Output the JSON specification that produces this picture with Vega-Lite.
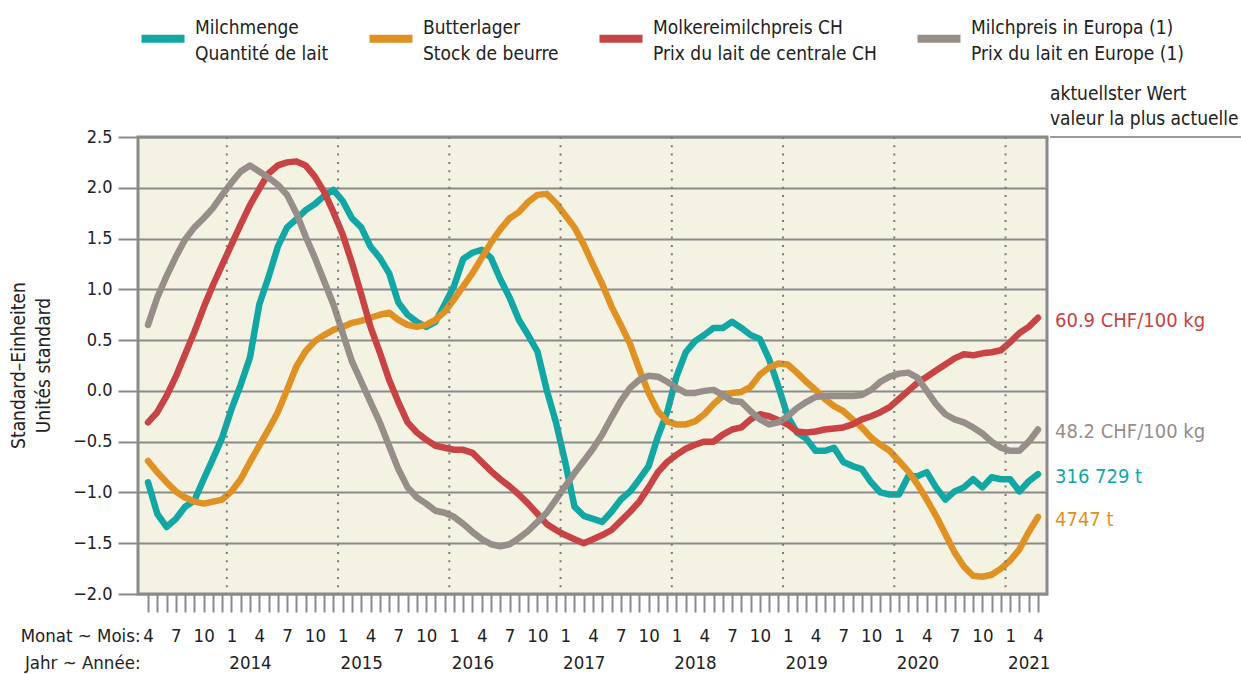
{
  "$schema": "https://vega.github.io/schema/vega-lite/v6.json",
  "width": 909,
  "height": 457,
  "autosize": "none",
  "padding": {"left": 138, "top": 137, "right": 194, "bottom": 81},
  "background": "white",
  "config": {
    "font": "Liberation Sans Narrow, DejaVu Sans Condensed, Roboto, sans-serif",
    "view": {"fill": "#f4f3e3", "stroke": "#8a8a8a", "strokeWidth": 3},
    "style": {"guide-label": {"lineHeight": 26}}
  },
  "resolve": {"axis": {"x": "independent", "y": "independent"}},
  "datasets": {
    "series": [
      {"t":0,"milch":-0.90,"butter":-0.69,"preis":-0.31,"europa":0.65},
      {"t":1,"milch":-1.21,"butter":-0.80,"preis":-0.21,"europa":0.92},
      {"t":2,"milch":-1.34,"butter":-0.90,"preis":-0.05,"europa":1.13},
      {"t":3,"milch":-1.26,"butter":-0.99,"preis":0.14,"europa":1.32},
      {"t":4,"milch":-1.14,"butter":-1.05,"preis":0.36,"europa":1.49},
      {"t":5,"milch":-1.08,"butter":-1.09,"preis":0.58,"europa":1.61},
      {"t":6,"milch":-0.87,"butter":-1.11,"preis":0.82,"europa":1.70},
      {"t":7,"milch":-0.67,"butter":-1.09,"preis":1.04,"europa":1.80},
      {"t":8,"milch":-0.46,"butter":-1.07,"preis":1.24,"europa":1.93},
      {"t":9,"milch":-0.18,"butter":-0.99,"preis":1.44,"europa":2.05},
      {"t":10,"milch":0.06,"butter":-0.87,"preis":1.64,"europa":2.16},
      {"t":11,"milch":0.33,"butter":-0.70,"preis":1.83,"europa":2.22},
      {"t":12,"milch":0.85,"butter":-0.54,"preis":1.99,"europa":2.16},
      {"t":13,"milch":1.12,"butter":-0.38,"preis":2.14,"europa":2.10},
      {"t":14,"milch":1.42,"butter":-0.21,"preis":2.22,"europa":2.03},
      {"t":15,"milch":1.61,"butter":0.01,"preis":2.25,"europa":1.93},
      {"t":16,"milch":1.69,"butter":0.24,"preis":2.26,"europa":1.75},
      {"t":17,"milch":1.78,"butter":0.39,"preis":2.22,"europa":1.52},
      {"t":18,"milch":1.84,"butter":0.49,"preis":2.11,"europa":1.31},
      {"t":19,"milch":1.92,"butter":0.55,"preis":1.96,"europa":1.08},
      {"t":20,"milch":1.98,"butter":0.60,"preis":1.76,"europa":0.85},
      {"t":21,"milch":1.87,"butter":0.63,"preis":1.54,"europa":0.57},
      {"t":22,"milch":1.70,"butter":0.67,"preis":1.26,"europa":0.29},
      {"t":23,"milch":1.61,"butter":0.69,"preis":0.95,"europa":0.09},
      {"t":24,"milch":1.42,"butter":0.72,"preis":0.63,"europa":-0.11},
      {"t":25,"milch":1.31,"butter":0.75,"preis":0.38,"europa":-0.31},
      {"t":26,"milch":1.16,"butter":0.77,"preis":0.11,"europa":-0.54},
      {"t":27,"milch":0.87,"butter":0.70,"preis":-0.11,"europa":-0.77},
      {"t":28,"milch":0.75,"butter":0.65,"preis":-0.31,"europa":-0.95},
      {"t":29,"milch":0.68,"butter":0.63,"preis":-0.41,"europa":-1.05},
      {"t":30,"milch":0.63,"butter":0.65,"preis":-0.48,"europa":-1.11},
      {"t":31,"milch":0.68,"butter":0.70,"preis":-0.54,"europa":-1.18},
      {"t":32,"milch":0.85,"butter":0.78,"preis":-0.56,"europa":-1.20},
      {"t":33,"milch":1.03,"butter":0.90,"preis":-0.58,"europa":-1.24},
      {"t":34,"milch":1.30,"butter":1.03,"preis":-0.58,"europa":-1.31},
      {"t":35,"milch":1.36,"butter":1.16,"preis":-0.61,"europa":-1.39},
      {"t":36,"milch":1.39,"butter":1.31,"preis":-0.70,"europa":-1.46},
      {"t":37,"milch":1.31,"butter":1.46,"preis":-0.79,"europa":-1.51},
      {"t":38,"milch":1.10,"butter":1.59,"preis":-0.87,"europa":-1.53},
      {"t":39,"milch":0.92,"butter":1.70,"preis":-0.94,"europa":-1.51},
      {"t":40,"milch":0.70,"butter":1.76,"preis":-1.02,"europa":-1.45},
      {"t":41,"milch":0.55,"butter":1.86,"preis":-1.11,"europa":-1.38},
      {"t":42,"milch":0.39,"butter":1.93,"preis":-1.21,"europa":-1.29},
      {"t":43,"milch":0.01,"butter":1.94,"preis":-1.31,"europa":-1.20},
      {"t":44,"milch":-0.31,"butter":1.85,"preis":-1.37,"europa":-1.07},
      {"t":45,"milch":-0.70,"butter":1.73,"preis":-1.42,"europa":-0.94},
      {"t":46,"milch":-1.14,"butter":1.61,"preis":-1.46,"europa":-0.81},
      {"t":47,"milch":-1.23,"butter":1.44,"preis":-1.50,"europa":-0.69},
      {"t":48,"milch":-1.26,"butter":1.24,"preis":-1.46,"europa":-0.57},
      {"t":49,"milch":-1.29,"butter":1.05,"preis":-1.42,"europa":-0.43},
      {"t":50,"milch":-1.19,"butter":0.83,"preis":-1.37,"europa":-0.26},
      {"t":51,"milch":-1.07,"butter":0.65,"preis":-1.28,"europa":-0.10},
      {"t":52,"milch":-0.99,"butter":0.46,"preis":-1.19,"europa":0.03},
      {"t":53,"milch":-0.87,"butter":0.21,"preis":-1.09,"europa":0.11},
      {"t":54,"milch":-0.74,"butter":-0.02,"preis":-0.95,"europa":0.15},
      {"t":55,"milch":-0.45,"butter":-0.20,"preis":-0.80,"europa":0.14},
      {"t":56,"milch":-0.21,"butter":-0.30,"preis":-0.70,"europa":0.09},
      {"t":57,"milch":0.14,"butter":-0.33,"preis":-0.63,"europa":0.03},
      {"t":58,"milch":0.38,"butter":-0.33,"preis":-0.57,"europa":-0.02},
      {"t":59,"milch":0.49,"butter":-0.30,"preis":-0.53,"europa":-0.02},
      {"t":60,"milch":0.55,"butter":-0.23,"preis":-0.50,"europa":0.00},
      {"t":61,"milch":0.62,"butter":-0.13,"preis":-0.50,"europa":0.01},
      {"t":62,"milch":0.62,"butter":-0.05,"preis":-0.43,"europa":-0.04},
      {"t":63,"milch":0.68,"butter":-0.02,"preis":-0.38,"europa":-0.10},
      {"t":64,"milch":0.62,"butter":-0.01,"preis":-0.36,"europa":-0.11},
      {"t":65,"milch":0.55,"butter":0.04,"preis":-0.28,"europa":-0.20},
      {"t":66,"milch":0.51,"butter":0.16,"preis":-0.23,"europa":-0.28},
      {"t":67,"milch":0.31,"butter":0.23,"preis":-0.25,"europa":-0.33},
      {"t":68,"milch":0.04,"butter":0.27,"preis":-0.29,"europa":-0.31},
      {"t":69,"milch":-0.25,"butter":0.26,"preis":-0.33,"europa":-0.25},
      {"t":70,"milch":-0.41,"butter":0.18,"preis":-0.40,"europa":-0.17},
      {"t":71,"milch":-0.47,"butter":0.09,"preis":-0.41,"europa":-0.11},
      {"t":72,"milch":-0.59,"butter":0.01,"preis":-0.40,"europa":-0.06},
      {"t":73,"milch":-0.59,"butter":-0.08,"preis":-0.38,"europa":-0.05},
      {"t":74,"milch":-0.56,"butter":-0.15,"preis":-0.37,"europa":-0.05},
      {"t":75,"milch":-0.70,"butter":-0.20,"preis":-0.36,"europa":-0.05},
      {"t":76,"milch":-0.74,"butter":-0.28,"preis":-0.33,"europa":-0.05},
      {"t":77,"milch":-0.77,"butter":-0.36,"preis":-0.28,"europa":-0.04},
      {"t":78,"milch":-0.90,"butter":-0.46,"preis":-0.25,"europa":0.01},
      {"t":79,"milch":-1.00,"butter":-0.53,"preis":-0.21,"europa":0.09},
      {"t":80,"milch":-1.02,"butter":-0.59,"preis":-0.16,"europa":0.14},
      {"t":81,"milch":-1.02,"butter":-0.69,"preis":-0.08,"europa":0.17},
      {"t":82,"milch":-0.84,"butter":-0.79,"preis":0.00,"europa":0.18},
      {"t":83,"milch":-0.84,"butter":-0.92,"preis":0.08,"europa":0.13},
      {"t":84,"milch":-0.80,"butter":-1.07,"preis":0.14,"europa":0.00},
      {"t":85,"milch":-0.95,"butter":-1.23,"preis":0.20,"europa":-0.13},
      {"t":86,"milch":-1.07,"butter":-1.41,"preis":0.26,"europa":-0.23},
      {"t":87,"milch":-0.99,"butter":-1.59,"preis":0.32,"europa":-0.28},
      {"t":88,"milch":-0.95,"butter":-1.73,"preis":0.36,"europa":-0.31},
      {"t":89,"milch":-0.87,"butter":-1.82,"preis":0.35,"europa":-0.36},
      {"t":90,"milch":-0.95,"butter":-1.83,"preis":0.37,"europa":-0.42},
      {"t":91,"milch":-0.85,"butter":-1.81,"preis":0.38,"europa":-0.50},
      {"t":92,"milch":-0.87,"butter":-1.75,"preis":0.40,"europa":-0.56},
      {"t":93,"milch":-0.87,"butter":-1.67,"preis":0.48,"europa":-0.59},
      {"t":94,"milch":-0.99,"butter":-1.56,"preis":0.57,"europa":-0.59},
      {"t":95,"milch":-0.89,"butter":-1.39,"preis":0.63,"europa":-0.50},
      {"t":96,"milch":-0.82,"butter":-1.24,"preis":0.72,"europa":-0.38}
    ],
    "latest": [
      {"key": "preis", "label": "60.9 CHF/100 kg"},
      {"key": "europa", "label": "48.2 CHF/100 kg"},
      {"key": "milch", "label": "316 729 t"},
      {"key": "butter", "label": "4747 t"}
    ],
    "years": [
      {"b": 8.5}, {"b": 20.5}, {"b": 32.5}, {"b": 44.5},
      {"b": 56.5}, {"b": 68.5}, {"b": 80.5}, {"b": 92.5}
    ]
  },
  "layer": [
    {
      "data": {"name": "series"},
      "transform": [
        {"fold": ["milch", "butter", "preis", "europa"], "as": ["key", "value"]}
      ],
      "mark": {"type": "line", "strokeWidth": 6.5, "strokeCap": "round", "strokeJoin": "round"},
      "encoding": {
        "x": {
          "field": "t", "type": "quantitative",
          "scale": {"domain": [-1.08, 96.97], "nice": false, "zero": false},
          "axis": {
            "values": [0,1,2,3,4,5,6,7,8,9,10,11,12,13,14,15,16,17,18,19,20,21,22,23,24,25,26,27,28,29,30,31,32,33,34,35,36,37,38,39,40,41,42,43,44,45,46,47,48,49,50,51,52,53,54,55,56,57,58,59,60,61,62,63,64,65,66,67,68,69,70,71,72,73,74,75,76,77,78,79,80,81,82,83,84,85,86,87,88,89,90,91,92,93,94,95,96],
            "labelExpr": "[datum.value % 3 == 0 ? '' + ((datum.value + 3) % 12 + 1) : '', (datum.value - 11) % 12 == 0 ? '' + (2013 + floor((datum.value + 3) / 12)) : '']",
            "domain": false, "grid": false,
            "tickSize": 18, "tickColor": "#8a8a8a", "tickWidth": 2,
            "labelFontSize": 18.5, "labelColor": "#222222", "labelPadding": 14,
            "labelBaseline": "top", "labelLineHeight": 27,
            "labelOverlap": false, "labelFlush": false, "labelBound": false,
            "title": ["Monat ~ Mois:", "Jahr ~ Année:"],
            "titleFontSize": 18.5, "titleFontWeight": "normal", "titleColor": "#222222",
            "titleAlign": "right", "titleAngle": 0, "titleBaseline": "top",
            "titleLineHeight": 27, "titleX": 2, "titleY": 32
          }
        },
        "y": {
          "field": "value", "type": "quantitative",
          "scale": {"domain": [-2, 2.5], "nice": false, "zero": false},
          "axis": {
            "values": [-2, -1.5, -1, -0.5, 0, 0.5, 1, 1.5, 2, 2.5],
            "format": ".1f",
            "domain": false,
            "grid": true, "gridColor": "#8a8a8a", "gridWidth": 2,
            "tickSize": 20, "tickColor": "#8a8a8a", "tickWidth": 2,
            "labelFontSize": 18, "labelColor": "#222222", "labelPadding": 6,
            "title": ["Standard–Einheiten", "Unités standard"],
            "titleFontSize": 19, "titleFontWeight": "normal", "titleColor": "#222222",
            "titleAngle": 270, "titleBaseline": "top", "titleAlign": "center",
            "titleLineHeight": 25, "titleX": -129, "titleY": 228
          }
        },
        "color": {
          "field": "key", "type": "nominal",
          "scale": {"domain": ["milch", "butter", "preis", "europa"], "range": ["#12a7a4", "#df9124", "#c84343", "#978e89"]},
          "legend": {
            "orient": "none", "legendX": -1, "legendY": -135,
            "direction": "horizontal", "columns": 4, "title": null,
            "symbolType": "M-1,0.5L1,0.5", "symbolSize": 1850, "symbolStrokeWidth": 8,
            "labelExpr": "datum.label == 'milch' ? ['Milchmenge', 'Quantité de lait'] : datum.label == 'butter' ? ['Butterlager', 'Stock de beurre'] : datum.label == 'preis' ? ['Molkereimilchpreis CH', 'Prix du lait de centrale CH'] : ['Milchpreis in Europa (1)', 'Prix du lait en Europe (1)']",
            "labelFontSize": 19, "labelColor": "#222222",
            "labelOffset": 6, "labelLimit": 0, "columnPadding": 24
          }
        }
      }
    },
    {
      "data": {"name": "years"},
      "mark": {"type": "rule", "color": "#7a7a7a", "strokeWidth": 2, "strokeDash": [2, 6.3]},
      "encoding": {
        "x": {"field": "b", "type": "quantitative", "scale": {"domain": [-1.08, 96.97], "nice": false, "zero": false}, "axis": null}
      }
    },
    {
      "data": {"name": "series"},
      "transform": [
        {"filter": "datum.t == 96"},
        {"fold": ["milch", "butter", "preis", "europa"], "as": ["key", "value"]},
        {"lookup": "key", "from": {"data": {"name": "latest"}, "key": "key", "fields": ["label"]}}
      ],
      "mark": {"type": "text", "align": "left", "baseline": "middle", "dx": 17, "dy": 3, "fontSize": 20},
      "encoding": {
        "x": {"field": "t", "type": "quantitative", "scale": {"domain": [-1.08, 96.97], "nice": false, "zero": false}, "axis": null},
        "y": {"field": "value", "type": "quantitative", "scale": {"domain": [-2, 2.5], "nice": false, "zero": false}, "axis": null},
        "text": {"field": "label"},
        "fill": {
          "field": "key", "type": "nominal",
          "scale": {"domain": ["milch", "butter", "preis", "europa"], "range": ["#12a7a4", "#df9124", "#c84343", "#978e89"]},
          "legend": null
        }
      }
    },
    {
      "data": {"values": [{"note": "aktuellster Wert"}]},
      "mark": {"type": "text", "align": "left", "baseline": "top", "dx": 12, "dy": -52, "fontSize": 19, "lineHeight": 25, "color": "#222222", "text": ["aktuellster Wert", "valeur la plus actuelle"]},
      "encoding": {
        "x": {"datum": 96, "type": "quantitative", "scale": {"domain": [-1.08, 96.97], "nice": false, "zero": false}, "axis": null},
        "y": {"datum": 2.5, "type": "quantitative", "scale": {"domain": [-2, 2.5], "nice": false, "zero": false}, "axis": null}
      }
    },
    {
      "data": {"values": [{"note": "rule"}]},
      "mark": {"type": "rule", "color": "#999999", "strokeWidth": 2},
      "encoding": {
        "x": {"datum": 97.3, "type": "quantitative", "scale": {"domain": [-1.08, 96.97], "nice": false, "zero": false}, "axis": null},
        "x2": {"datum": 118.5},
        "y": {"datum": 2.5, "type": "quantitative", "scale": {"domain": [-2, 2.5], "nice": false, "zero": false}, "axis": null}
      }
    }
  ]
}
